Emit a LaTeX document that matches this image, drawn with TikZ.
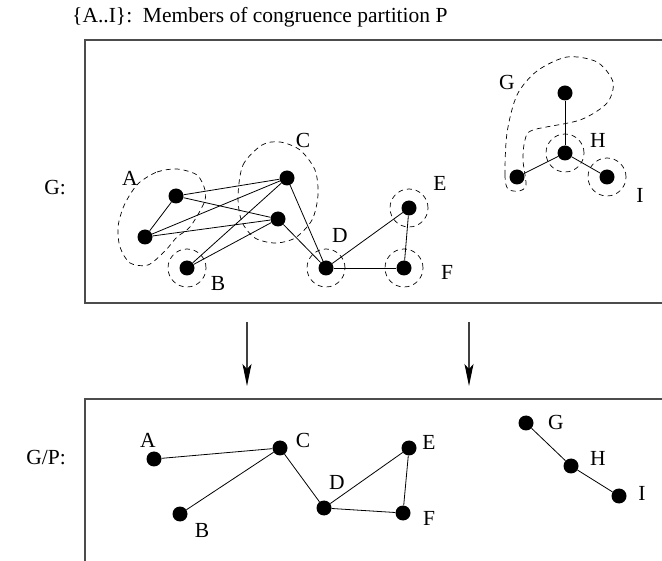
\documentclass[tikz,border=0pt]{standalone}
\usepackage{fontspec}
\setmainfont{Liberation Serif}
\usetikzlibrary{arrows.meta}
\newcommand{\vtx}[3]{
\node[vtx] (#1) at (#2,#3) {};
}
\newcommand{\lbl}[4]{
\node[lbl] (#1) at (#2,#3) {#4};
}
\tikzset{
  vtx/.style={circle, fill=black, inner sep=0pt, minimum size=15pt},
  lbl/.style={inner sep=0pt, font=\fontsize{21.5}{25}\selectfont},
  grp/.style={dash pattern=on 5pt off 4pt, line width=0.7pt},
  edge/.style={line width=0.8pt},
  frame/.style={line width=1.5pt, color=black!70},
  proj/.style={line width=1.2pt, color=black!75, -{Stealth[length=22pt, width=9pt, inset=5pt, color=black]}}
}

\begin{document}
\begin{tikzpicture}[x=1pt, y=-1pt]
\useasboundingbox (0,0) rectangle (662,561);

\node[lbl, anchor=base west] (title) at (72,23) {\{A..I\}:\ \ Members of congruence partition P};

% frames
\draw[frame] (662,40)--(85,40)--(85,303)--(662,303);
\draw[frame] (662,399)--(85,399)--(85,561);

\node[lbl, anchor=east] (gname) at (66,188) {G:};
\node[lbl, anchor=east] (qname) at (66,458) {G/P:};

% graph G
\vtx{a1}{176}{196}
\vtx{a2}{145}{237}
\vtx{b}{187}{268}
\vtx{c1}{287}{178}
\vtx{c2}{278}{219}
\vtx{d}{326}{268}
\vtx{e}{409}{208}
\vtx{f}{404}{268}
\vtx{g}{565}{93}
\vtx{h}{565}{153}
\vtx{g2}{517}{177}
\vtx{i}{607}{177}

\draw[edge] (a1)--(a2);
\draw[edge] (a1)--(c1);
\draw[edge] (a1)--(c2);
\draw[edge] (a2)--(c1);
\draw[edge] (a2)--(c2);
\draw[edge] (b)--(c1);
\draw[edge] (b)--(c2);
\draw[edge] (c1)--(d);
\draw[edge] (c2)--(d);
\draw[edge] (d)--(f);
\draw[edge] (d)--(e);
\draw[edge] (e)--(f);
\draw[edge] (g)--(h);
\draw[edge] (h)--(g2);
\draw[edge] (h)--(i);

% partition members
\draw[grp] plot[smooth cycle] coordinates {(140,182) (157,172) (177,169) (197,175) (205,190) (204,203) (190,227) (177,237) (165,251) (148,265) (130,263) (120,247) (118,227) (123,208) (131,193)};
\draw[grp] plot[smooth cycle] coordinates {(238,197) (243,165) (262,145) (280,142) (300,150) (315,170) (318,195) (312,220) (295,238) (275,243) (255,238) (242,222)};
\draw[grp] plot[smooth cycle] coordinates {(508,189) (505,175) (507,133) (517,95) (537,71) (567,57) (597,62) (613,82) (607,103) (580,120) (533,130) (525,140) (523,160) (526,185) (519,191)};
\draw[grp] (b) circle[radius=19pt];
\draw[grp] (d) circle[radius=19pt];
\draw[grp] (e) circle[radius=19pt];
\draw[grp] (f) circle[radius=19pt];
\draw[grp] (h) circle[radius=19pt];
\draw[grp] (i) circle[radius=19pt];

\lbl{la}{130}{178}{A}
\lbl{lb}{218}{283}{B}
\lbl{lc}{303}{140}{C}
\lbl{ld}{340}{235}{D}
\lbl{le}{440}{183}{E}
\lbl{lf}{447}{272}{F}
\lbl{lg}{507}{82}{G}
\lbl{lh}{598}{140}{H}
\lbl{li}{640}{195}{I}

% projection
\coordinate (p1) at (247,322);
\coordinate (q1) at (247,386);
\coordinate (p2) at (469,322);
\coordinate (q2) at (469,386);
\draw[proj] (p1)--(q1);
\draw[proj] (p2)--(q2);

% quotient G/P
\vtx{qa}{154}{459}
\vtx{qb}{180}{514}
\vtx{qc}{280}{448}
\vtx{qd}{324}{508}
\vtx{qe}{409}{448}
\vtx{qf}{403}{513}
\vtx{qg}{526}{423}
\vtx{qh}{571}{466}
\vtx{qi}{619}{496}

\draw[edge] (qa)--(qc);
\draw[edge] (qb)--(qc);
\draw[edge] (qc)--(qd);
\draw[edge] (qd)--(qe);
\draw[edge] (qd)--(qf);
\draw[edge] (qe)--(qf);
\draw[edge] (qg)--(qh);
\draw[edge] (qh)--(qi);

\lbl{lqa}{148}{440}{A}
\lbl{lqb}{202}{530}{B}
\lbl{lqc}{303}{440}{C}
\lbl{lqd}{337}{482}{D}
\lbl{lqe}{429}{442}{E}
\lbl{lqf}{429}{518}{F}
\lbl{lqg}{556}{422}{G}
\lbl{lqh}{598}{458}{H}
\lbl{lqi}{642}{493}{I}

\end{tikzpicture}
\end{document}
